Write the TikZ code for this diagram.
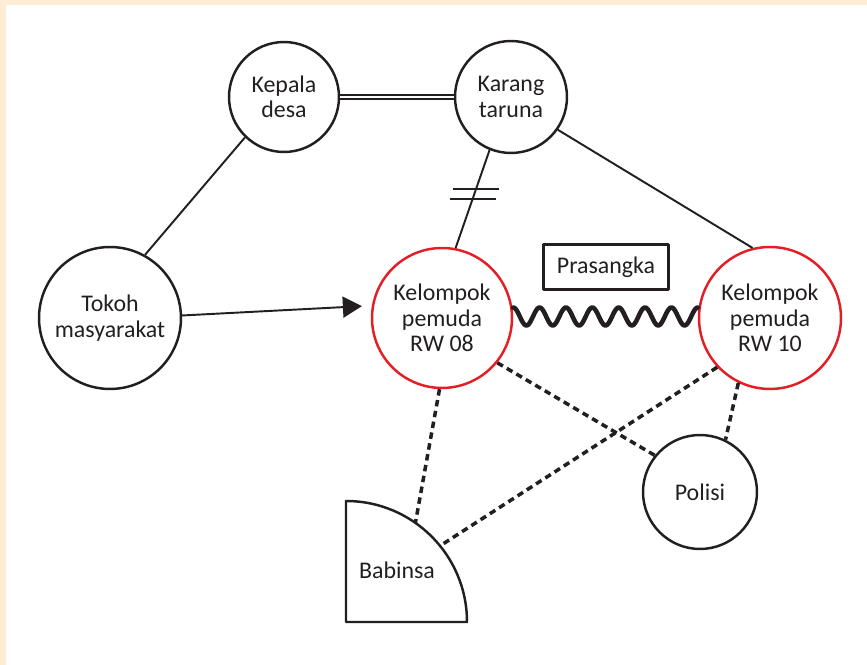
\documentclass[tikz,border=0pt]{standalone}
\usepackage{fontspec}
\setmainfont{Carlito}
\usetikzlibrary{arrows.meta,calc}
\definecolor{cream}{RGB}{254,236,212}
\definecolor{ink}{RGB}{35,31,32}
\definecolor{rwred}{RGB}{227,30,36}
\tikzset{
  actor/.style={circle, draw=ink, line width=1.4pt, align=center, inner sep=0pt, text=ink},
  group/.style={actor, draw=rwred},
  tie/.style={draw=ink, line width=1.1pt},
  weak/.style={draw=ink, line width=2pt, dash pattern=on 0.13cm off 0.09cm},
}

\begin{document}
\begin{tikzpicture}[x=0.02cm, y=-0.02cm, line join=round, font=\fontsize{13.6}{14.4}\selectfont]
\useasboundingbox (0,0) rectangle (867,665);
\fill[cream] (0,0) rectangle (867,5);
\fill[cream] (0,0) rectangle (6,665);
% actors
\node[actor, minimum size=2.2cm]  (kepala) at (284,97)  {Kepala\\desa};
\node[actor, minimum size=2.24cm] (karang) at (511,97)  {Karang\\taruna};
\node[actor, minimum size=2.84cm] (tokoh)  at (110,318) {Tokoh\\masyarakat};
\node[group, minimum size=2.8cm]  (rw08)   at (442,318) {Kelompok\\pemuda\\RW 08};
\node[group, minimum size=2.84cm] (rw10)   at (770,318) {Kelompok\\pemuda\\RW 10};
\node[actor, minimum size=2.28cm] (polisi) at (700,492) {Polisi};
\node[draw=ink, line width=1.3pt, text=ink, minimum width=2.5cm, minimum height=0.9cm] (prasangka) at (606,267) {Prasangka};
% babinsa
\coordinate (babc) at (346,622);
\draw[ink, line width=1.4pt] (babc) -- (346,501) arc[start angle=-90, end angle=0, radius=121] -- cycle;
\node[text=ink] (babinsa) at (397,570) {Babinsa};
\coordinate (bab1) at ($(babc)+(-55:121)$);
\coordinate (bab2) at ($(babc)+(-39:121)$);
% ties
\draw[ink, double=white, double distance=1.6pt, line width=0.8pt] (kepala.east) -- (karang.west);
\draw[tie] (tokoh.61) -- (kepala.226);
\draw[tie] (karang.248) -- (rw08.79);
\coordinate (m1) at ($(karang.248)!0.4!(rw08.79)$);
\coordinate (m2) at ($(karang.248)!0.5!(rw08.79)$);
\draw[tie] ($(m1)+(-23,0)$) -- ($(m1)+(23,0)$) ($(m2)+(-23,0)$) -- ($(m2)+(23,0)$);
\draw[tie] (karang.325) -- (rw10.104);
\draw[tie, -{Triangle[length=0.38cm, width=0.42cm]}, shorten >=0.2cm] (tokoh.2) -- (rw08.170);
% prasangka wave, 7 periods
\draw[ink, line width=2.6pt, line cap=round] let \p1=(rw08.east), \p2=(rw10.west) in
  plot[domain=0:1, samples=211, smooth, variable=\t]
  ({\x1+(\x2-\x1)*\t}, {\y1+0.03cm+5.1pt*cos(7*360*\t)});
% weak ties
\draw[weak] (rw08.268) -- (bab1);
\draw[weak] (rw08.321) -- (polisi.141);
\draw[weak] (rw10.223) -- (bab2);
\draw[weak] (rw10.244) -- (polisi.64);
\end{tikzpicture}
\end{document}
